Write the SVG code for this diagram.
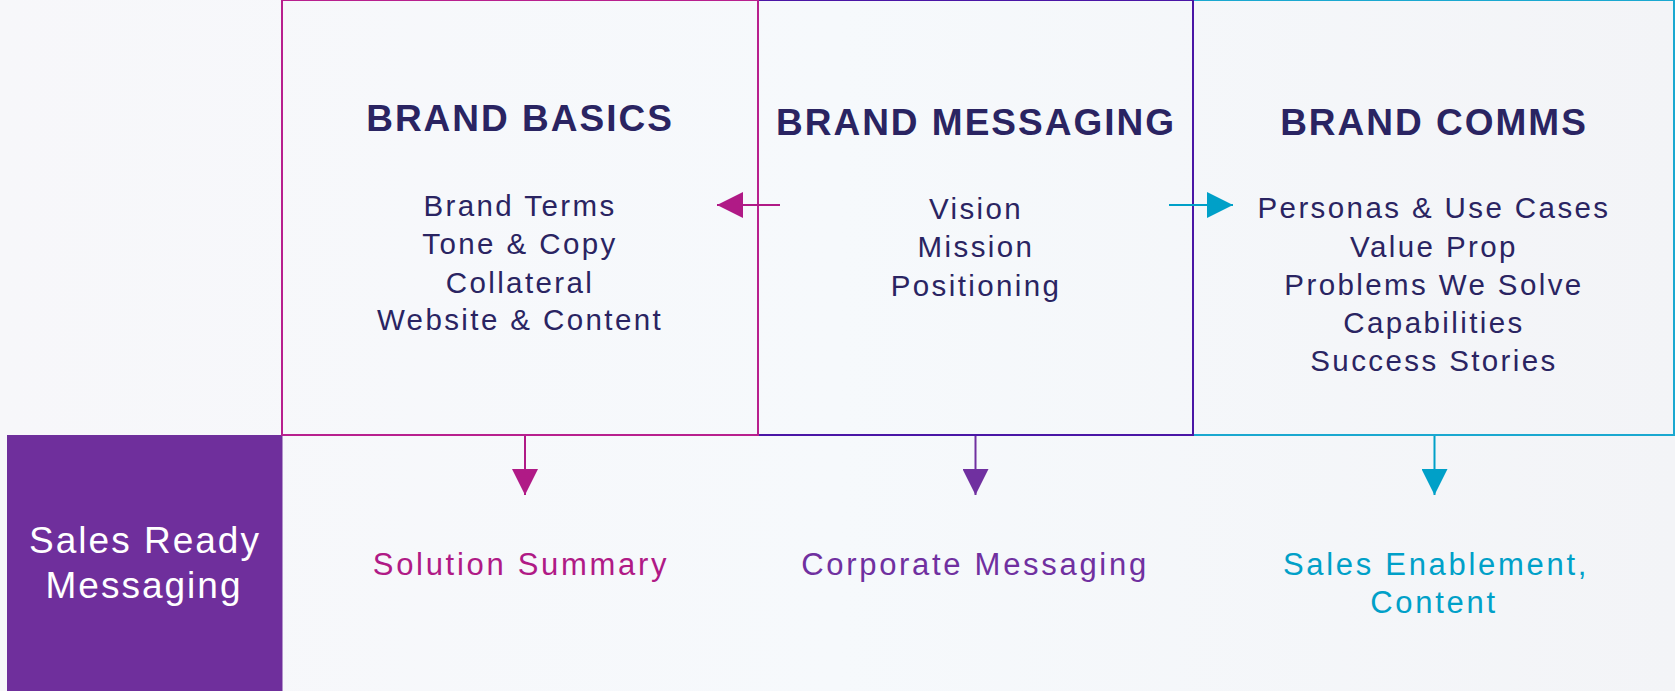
<svg xmlns="http://www.w3.org/2000/svg" width="1675" height="691" viewBox="0 0 1675 691">
  <defs>
    <linearGradient id="bg" x1="0" y1="0" x2="1" y2="0">
      <stop offset="0" stop-color="#f7f7fa"/>
      <stop offset="0.5" stop-color="#f6f9fc"/>
      <stop offset="1" stop-color="#f3f4f7"/>
    </linearGradient>
    <marker id="head-magenta" viewBox="0 0 26 26" refX="26" refY="13" markerWidth="26" markerHeight="26" markerUnits="userSpaceOnUse" orient="auto">
      <path d="M0,0 L26,13 L0,26 Z" fill="#b01a86"/>
    </marker>
    <marker id="head-purple" viewBox="0 0 26 26" refX="26" refY="13" markerWidth="26" markerHeight="26" markerUnits="userSpaceOnUse" orient="auto">
      <path d="M0,0 L26,13 L0,26 Z" fill="#7030a0"/>
    </marker>
    <marker id="head-cyan" viewBox="0 0 26 26" refX="26" refY="13" markerWidth="26" markerHeight="26" markerUnits="userSpaceOnUse" orient="auto">
      <path d="M0,0 L26,13 L0,26 Z" fill="#00a0c8"/>
    </marker>
  </defs>
  <style>
    .title { font-family: "Liberation Sans", Arial, sans-serif; font-size: 37px; font-weight: bold; letter-spacing: 2px; fill: #2a2462; text-anchor: middle; }
    .item { font-family: "Liberation Sans", Arial, sans-serif; font-size: 29.5px; letter-spacing: 2.4px; fill: #2a2462; text-anchor: middle; }
    .out { font-family: "Liberation Sans", Arial, sans-serif; font-size: 31px; letter-spacing: 2.7px; text-anchor: middle; }
    .side { font-family: "Liberation Sans", Arial, sans-serif; font-size: 37px; letter-spacing: 2px; fill: #ffffff; text-anchor: middle; }
    .box { fill: none; stroke-width: 2; }
    .conn { fill: none; stroke-width: 2; }
  </style>

  <rect x="0" y="0" width="1675" height="691" fill="url(#bg)"/>

  <!-- side label -->
  <g id="sales-ready">
    <rect x="7" y="435" width="275.5" height="256" fill="#6f2f9c"/>
    <text class="side" x="145" y="553">Sales Ready</text>
    <text class="side" x="144" y="598">Messaging</text>
  </g>

  <!-- column boxes -->
  <g id="brand-comms">
    <rect class="box" x="1193" y="0" width="481" height="435" stroke="#1aa8d0"/>
    <text class="title" x="1434" y="135">BRAND COMMS</text>
    <text class="item" x="1434" y="218">Personas &amp; Use Cases</text>
    <text class="item" x="1434" y="256.5">Value Prop</text>
    <text class="item" x="1434" y="295">Problems We Solve</text>
    <text class="item" x="1434" y="333">Capabilities</text>
    <text class="item" x="1434" y="371">Success Stories</text>
  </g>

  <g id="brand-messaging">
    <rect class="box" x="758" y="0" width="435" height="435" stroke="#4a16a6"/>
    <text class="title" x="976" y="135">BRAND MESSAGING</text>
    <text class="item" x="976" y="219">Vision</text>
    <text class="item" x="976" y="257">Mission</text>
    <text class="item" x="976" y="295.5">Positioning</text>
  </g>

  <g id="brand-basics">
    <rect class="box" x="282" y="0" width="476" height="435" stroke="#b8208e"/>
    <text class="title" x="520" y="131">BRAND BASICS</text>
    <text class="item" x="520" y="216">Brand Terms</text>
    <text class="item" x="520" y="254">Tone &amp; Copy</text>
    <text class="item" x="520" y="292.5">Collateral</text>
    <text class="item" x="520" y="330">Website &amp; Content</text>
  </g>

  <!-- outputs -->
  <g id="solution-summary">
    <text class="out" x="521" y="575" fill="#b01a86">Solution Summary</text>
  </g>
  <g id="corporate-messaging">
    <text class="out" x="975" y="575" fill="#7030a0">Corporate Messaging</text>
  </g>
  <g id="sales-enablement">
    <text class="out" x="1436" y="575" fill="#00a0c8">Sales Enablement,</text>
    <text class="out" x="1434" y="613" fill="#00a0c8">Content</text>
  </g>

  <!-- connectors -->
  <g id="connectors">
    <line class="conn" x1="780" y1="205" x2="717" y2="205" stroke="#b01a86" marker-end="url(#head-magenta)"/>
    <line class="conn" x1="1169" y1="205" x2="1233" y2="205" stroke="#00a0c8" marker-end="url(#head-cyan)"/>
    <line class="conn" x1="525" y1="436" x2="525" y2="495" stroke="#b01a86" marker-end="url(#head-magenta)"/>
    <line class="conn" x1="975.5" y1="436" x2="975.5" y2="495" stroke="#7030a0" marker-end="url(#head-purple)"/>
    <line class="conn" x1="1434.5" y1="436" x2="1434.5" y2="495" stroke="#00a0c8" marker-end="url(#head-cyan)"/>
  </g>
</svg>
